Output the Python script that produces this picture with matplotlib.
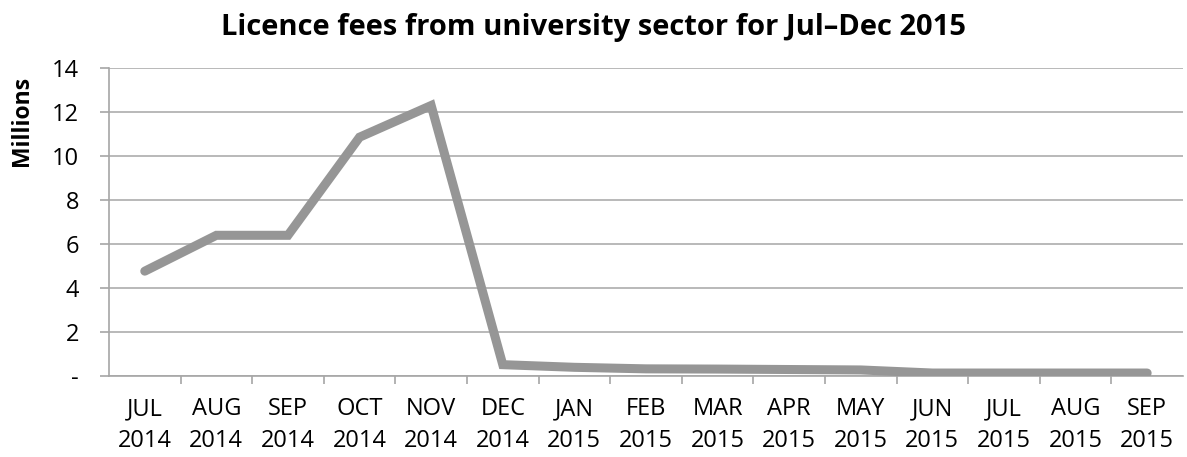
import matplotlib
matplotlib.use("Agg")
import matplotlib.pyplot as plt
import numpy as np

months = ["JUL\n2014", "AUG\n2014", "SEP\n2014", "OCT\n2014", "NOV\n2014", "DEC\n2014",
          "JAN\n2015", "FEB\n2015", "MAR\n2015", "APR\n2015", "MAY\n2015", "JUN\n2015",
          "JUL\n2015", "AUG\n2015", "SEP\n2015"]
fees_millions = [4.77, 6.4, 6.4, 10.86, 12.3, 0.52, 0.4, 0.33, 0.32, 0.3, 0.28, 0.14, 0.14, 0.14, 0.14]
y_ticks = [0, 2, 4, 6, 8, 10, 12, 14]
y_tick_labels = ["-", "2", "4", "6", "8", "10", "12", "14"]

plt.rcParams['font.family'] = ['Open Sans', 'DejaVu Sans']

fig = plt.figure(figsize=(11.87, 4.57), dpi=100)
ax = fig.add_axes([0.0918, 0.177, 0.9048, 0.674])

x = np.arange(len(months))
ax.plot(x, fees_millions, color="#969696", lw=6.5, solid_capstyle="round", solid_joinstyle="miter", zorder=3)

ax.set_xlim(-0.5, len(months) - 0.5)
ax.set_ylim(0, 14)
ax.set_yticks(y_ticks)
ax.set_yticklabels(y_tick_labels, fontsize=17)
ax.set_xticks(x)
ax.set_xticklabels(months, fontsize=17, linespacing=1.45)
ax.set_xticks(np.arange(0.5, len(months) - 0.5, 1), minor=True)
ax.tick_params(axis="x", which="major", length=0, pad=15)
ax.tick_params(axis="x", which="minor", length=5.5, color="#A6A6A6", width=1.2)
ax.tick_params(axis="y", length=6.5, color="#A6A6A6", width=1.2, pad=15)

ax.grid(axis="y", color="#ADADAD", lw=1.2, zorder=0)
for s in ["top", "right"]:
    ax.spines[s].set_visible(False)
for s in ["left", "bottom"]:
    ax.spines[s].set_color("#A6A6A6")
    ax.spines[s].set_linewidth(1.2)

ax.set_ylabel("Millions", fontsize=16.5, fontweight="bold", va="center")
ax.yaxis.set_label_coords(-0.081, 0.83)
fig.text(0.5, 0.939, "Licence fees from university sector for Jul\u2013Dec 2015",
         ha="center", va="center", fontsize=21, fontweight="bold")

fig.savefig("out.png", dpi=100)
